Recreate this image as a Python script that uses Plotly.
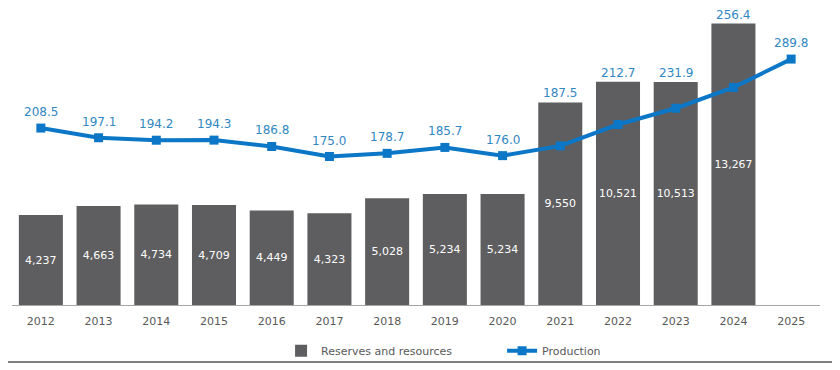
import plotly.graph_objects as go

years = ["2012", "2013", "2014", "2015", "2016", "2017", "2018", "2019",
         "2020", "2021", "2022", "2023", "2024", "2025"]
reserves = [4237, 4663, 4734, 4709, 4449, 4323, 5028, 5234, 5234, 9550,
            10521, 10513, 13267, None]
production = [208.5, 197.1, 194.2, 194.3, 186.8, 175.0, 178.7, 185.7, 176.0,
              187.5, 212.7, 231.9, 256.4, 289.8]
# years whose production label sits on top of the bar instead of the point
label_on_bar = ["2021", "2022", "2023", "2024"]

BAR = "#5e5e60"
LINE = "#0b77c6"
LABEL = "#3187c2"
GREY = "#595959"
FONT = "DejaVu Sans"

fig = go.Figure()
fig.add_trace(go.Bar(
    x=years, y=reserves, name="Reserves and resources",
    marker=dict(color=BAR, line=dict(width=0)),
    text=[f"{v:,}" if v is not None else "" for v in reserves],
    textposition="inside", insidetextanchor="middle", textangle=0,
    textfont=dict(color="white", size=11, family=FONT),
    yaxis="y",
))
fig.add_trace(go.Scatter(
    x=years, y=production, name="Production", mode="lines+markers",
    line=dict(color=LINE, width=4),
    marker=dict(symbol="square", size=9, color=LINE),
    yaxis="y2",
))

annotations = []
for i, (yr, p, r) in enumerate(zip(years, production, reserves)):
    if yr in label_on_bar:
        annotations.append(dict(x=i, y=r, xref="x", yref="y", text=f"{p:.1f}",
                                showarrow=False, yanchor="bottom", yshift=0,
                                font=dict(color=LABEL, size=12, family=FONT)))
    else:
        annotations.append(dict(x=i, y=p, xref="x", yref="y2", text=f"{p:.1f}",
                                showarrow=False, yanchor="middle", yshift=16,
                                font=dict(color=LABEL, size=12, family=FONT)))

# the page body has an 8px margin, so the figure is 8px smaller and the
# left/top margins are reduced by 8px to keep the plot area in place
fig.update_layout(
    width=832, height=362,
    margin=dict(l=4, r=20, t=0, b=65),
    paper_bgcolor="white", plot_bgcolor="white",
    font=dict(family=FONT, size=11, color=GREY),
    bargap=0.237,
    xaxis=dict(type="category", range=[-0.5, 13.5], showgrid=False,
               showline=True, linecolor="#a6a6a6", linewidth=1,
               ticks="outside", ticklen=6, tickcolor="rgba(0,0,0,0)",
               tickfont=dict(size=11, color=GREY, family=FONT)),
    yaxis=dict(range=[0, 14000], visible=False, showgrid=False),
    yaxis2=dict(range=[0, 350], visible=False, showgrid=False,
                overlaying="y", side="right"),
    showlegend=True,
    legend=dict(orientation="h", x=0.333, xanchor="left", y=-0.105,
                yanchor="top", entrywidth=176, entrywidthmode="pixels",
                font=dict(size=11, color=GREY, family=FONT),
                bgcolor="rgba(0,0,0,0)"),
    annotations=annotations,
    shapes=[dict(type="line", xref="paper", yref="paper",
                 x0=-0.011, x1=1.019, y0=-0.192, y1=-0.192,
                 line=dict(color="#808080", width=2))],
)

fig.write_html("out.html")
